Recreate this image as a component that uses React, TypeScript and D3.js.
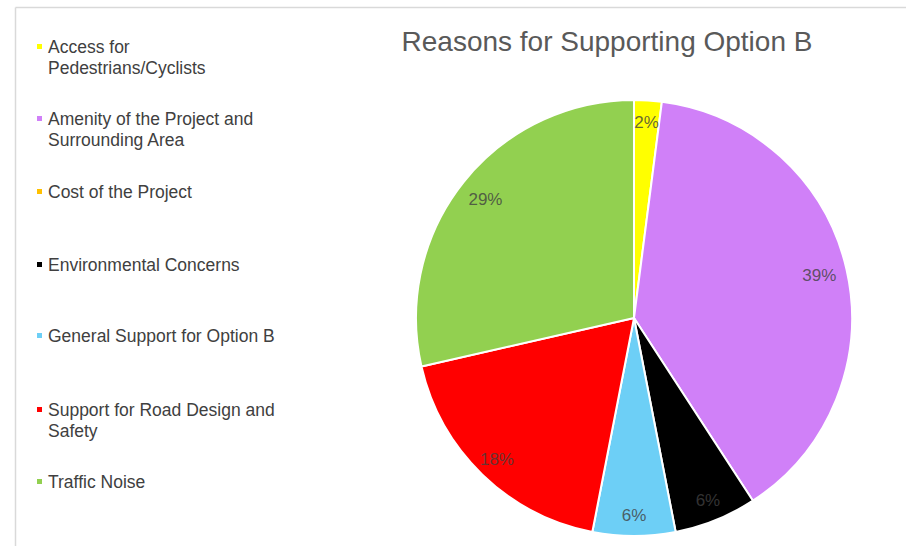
import React from "react";
import * as d3 from "d3";

const categories = [
  "Access for Pedestrians/Cyclists",
  "Amenity of the Project and Surrounding Area",
  "Cost of the Project",
  "Environmental Concerns",
  "General Support for Option B",
  "Support for Road Design and Safety",
  "Traffic Noise",
];
const legendLines = [
  ["Access for", "Pedestrians/Cyclists"],
  ["Amenity of the Project and", "Surrounding Area"],
  ["Cost of the Project"],
  ["Environmental Concerns"],
  ["General Support for Option B"],
  ["Support for Road Design and", "Safety"],
  ["Traffic Noise"],
];
const counts = [1, 19, 0, 3, 3, 9, 14];
const colors = ["#ffff00", "#d080f8", "#ffc000", "#000000", "#6dcff6", "#ff0000", "#92d050"];
const legendY = [47, 119, 192, 265, 336, 410, 482];
const title = "Reasons for Supporting Option B";

const W = 906;
const H = 546;
const cx = 634;
const cy = 318;
const R = 218;

export default function App() {
  const total = d3.sum(counts);
  const pie = d3.pie<number>().sort(null).value((d) => d);
  const arcs = pie(counts);
  const arc = d3.arc<d3.PieArcDatum<number>>().innerRadius(0).outerRadius(R);
  const font = "'Liberation Sans', Arial, sans-serif";
  return (
    <svg width={W} height={H} style={{ position: "absolute", left: 0, top: 0, background: "#fff" }}>
      <rect x={0} y={0} width={W} height={H} fill="#fff" />
      <line x1={15.5} y1={7.5} x2={W} y2={7.5} stroke="#d9d9d9" strokeWidth={1.5} />
      <line x1={15.5} y1={7.5} x2={15.5} y2={H} stroke="#d9d9d9" strokeWidth={1.5} />
      <text x={607} y={51} textAnchor="middle" fontFamily={font} fontSize={28} fill="#595959">
        {title}
      </text>
      <g transform={`translate(${cx},${cy})`}>
        {arcs.map((a, i) =>
          a.value > 0 ? (
            <path key={categories[i]} d={arc(a) || ""} fill={colors[i]} stroke="#fff" strokeWidth={2} strokeLinejoin="round" />
          ) : null
        )}
        {arcs.map((a, i) => {
          if (a.value <= 0) return null;
          const mid = (a.startAngle + a.endAngle) / 2;
          const lr = i === 0 ? 196 : i === 1 || i === 6 ? 190 : 197;
          const x = Math.sin(mid) * lr;
          const y = -Math.cos(mid) * lr;
          return (
            <text key={"l" + i} x={x} y={y} textAnchor="middle" dominantBaseline="central" fontFamily={font} fontSize={17} fill="#404040" fillOpacity={0.8}>
              {Math.round((a.value / total) * 100)}%
            </text>
          );
        })}
      </g>
      <g>
        {legendLines.map((lines, i) => (
          <g key={"lg" + i}>
            <rect x={37} y={legendY[i] - 3} width={5} height={5} fill={colors[i]} />
            {lines.map((ln, j) => (
              <text key={j} x={48} y={legendY[i] + j * 21} dominantBaseline="central" fontFamily={font} fontSize={17.5} fill="#404040">
                {ln}
              </text>
            ))}
          </g>
        ))}
      </g>
    </svg>
  );
}
